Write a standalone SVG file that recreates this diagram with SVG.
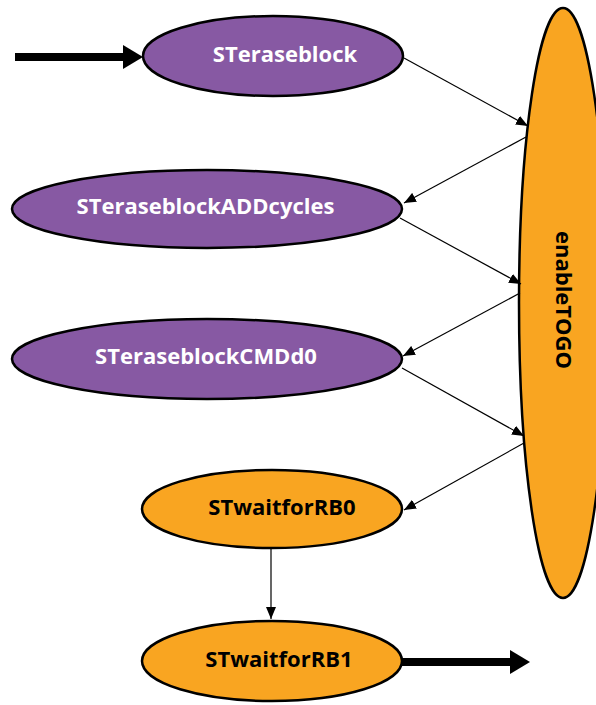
<svg xmlns="http://www.w3.org/2000/svg" width="596" height="705" viewBox="0 0 596 705">
<style>
.p{fill:#8759a3;stroke:#000;stroke-width:2.5}
.o{fill:#f9a521;stroke:#000;stroke-width:2.5}
.t{font-family:"Open Sans","Noto Sans",sans-serif;font-weight:bold;font-size:22px;text-anchor:middle;dominant-baseline:central}
.w{fill:#fff}
.b{fill:#000}
.c{stroke:#000;stroke-width:1.2;fill:none;marker-end:url(#a)}
.k{stroke:#000;stroke-width:8;fill:none}
</style>
<defs>
<marker id="a" viewBox="0 0 12 10" refX="12" refY="5" markerWidth="12" markerHeight="10" markerUnits="userSpaceOnUse" orient="auto">
<path d="M0,0 L12,5 L0,10 z" fill="#000"/>
</marker>
</defs>
<g id="enableTOGO">
<ellipse class="o" cx="563" cy="303" rx="44" ry="295"/>
<text class="t b" transform="translate(565,300) rotate(90)">enableTOGO</text>
</g>
<g id="STeraseblock">
<ellipse class="p" cx="273" cy="56" rx="130" ry="40"/>
<text class="t w" x="285" y="53">STeraseblock</text>
</g>
<g id="STeraseblockADDcycles">
<ellipse class="p" cx="207" cy="209" rx="195" ry="39"/>
<text class="t w" x="205.5" y="205">STeraseblockADDcycles</text>
</g>
<g id="STeraseblockCMDd0">
<ellipse class="p" cx="207" cy="359" rx="195" ry="40"/>
<text class="t w" x="206" y="355">STeraseblockCMDd0</text>
</g>
<g id="STwaitforRB0">
<ellipse class="o" cx="272" cy="509" rx="130" ry="39"/>
<text class="t b" x="282" y="506">STwaitforRB0</text>
</g>
<g id="STwaitforRB1">
<ellipse class="o" cx="272" cy="661" rx="130" ry="40"/>
<text class="t b" x="279" y="658">STwaitforRB1</text>
</g>
<g id="connectors">
<path class="k" d="M15,57 H126"/>
<path d="M123,45 L143,57 L123,69 z" fill="#000"/>
<path class="k" d="M402,662 H513"/>
<path d="M510,650 L530,662 L510,674 z" fill="#000"/>
<path class="c" d="M404,58 L528,126"/>
<path class="c" d="M526,137 L404,203"/>
<path class="c" d="M400,218 L521,284"/>
<path class="c" d="M520,293 L403,356"/>
<path class="c" d="M402,368 L524,436"/>
<path class="c" d="M524,443 L404,510"/>
<path class="c" d="M271,548 L271,619"/>
</g>
</svg>
